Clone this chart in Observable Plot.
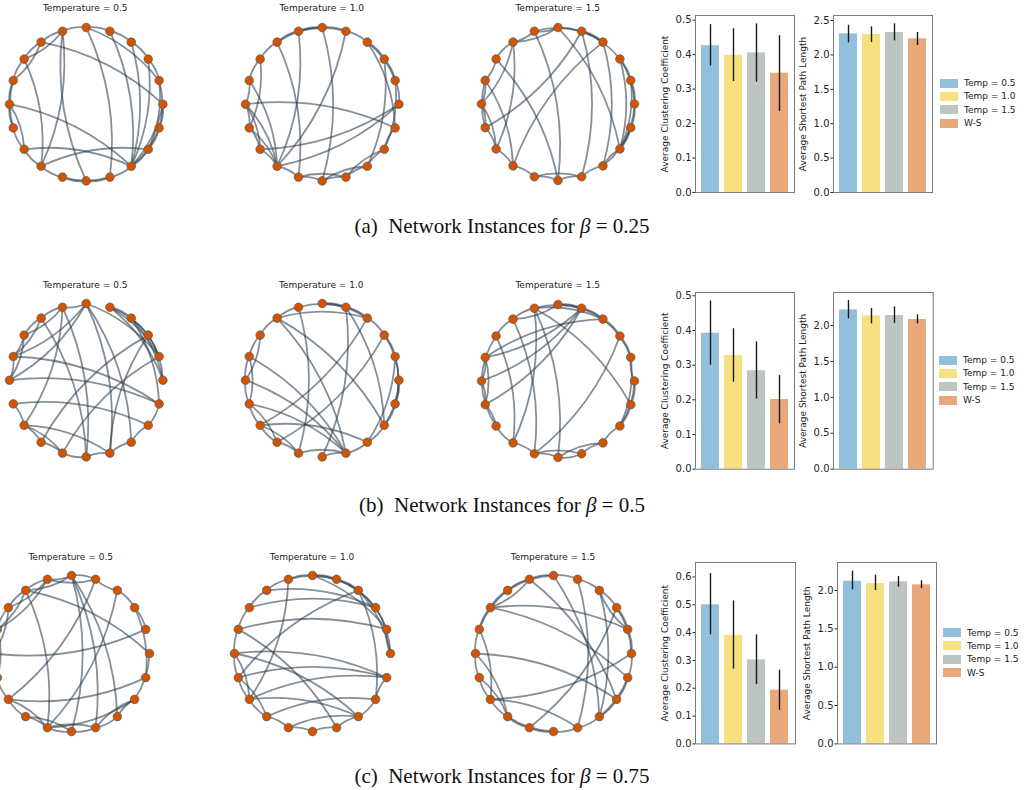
<!DOCTYPE html>
<html>
<head>
<meta charset="utf-8">
<script src="https://cdn.jsdelivr.net/npm/d3@7"></script>
<script src="https://cdn.jsdelivr.net/npm/@observablehq/plot@0.6"></script>
<style>
  body { margin: 0; background: #fff; }
  #fig { position: relative; width: 1031px; height: 790px; overflow: hidden; font-family: "DejaVu Sans", sans-serif; background: #fff; }
  .abs { position: absolute; }
  .ptitle { font-size: 9px; color: #222; transform: translate(-50%, -50%); white-space: nowrap; }
  .caption { font-family: "Liberation Serif", "Times New Roman", serif; font-size: 21px; line-height: 22px; color: #111; transform: translate(-50%, -50%); white-space: nowrap; }
  .legend { font-size: 9px; color: #222; }
  .legend .row { display: flex; align-items: center; height: 13.3px; }
  .legend .sw { width: 18px; height: 9px; margin-right: 6px; }
</style>
</head>
<body>
<div id="fig"></div>
<script>
// ---- data ---------------------------------------------------------------
const temperatures = ["Temperature = 0.5", "Temperature = 1.0", "Temperature = 1.5"];
const nodeIds = d3.range(20);

// edges of each sampled network (node 0 at 3 o'clock, counter-clockwise)
const edgesA1 = [[5,4],[6,5],[4,3],[3,2],[2,1],[1,18],[0,19],[19,18],[7,6],[8,7],[9,8],[10,9],[11,10],[12,11],[13,12],[14,13],[15,14],[16,14],[16,15],[17,16],[18,17],[7,0],[10,17],[8,13],[11,9],[6,13],[5,16],[5,1],[4,17],[3,17],[2,17],[0,17],[12,17],[13,18],[10,12],[7,9],[6,8],[19,17],[1,19],[15,6]];
const edgesA2 = [[6,5],[5,4],[6,4],[4,3],[3,2],[3,1],[3,19],[2,1],[1,0],[0,12],[10,19],[4,13],[6,13],[7,14],[8,7],[8,11],[9,10],[10,11],[11,12],[12,13],[13,14],[14,15],[15,16],[16,17],[17,18],[18,19],[14,16],[2,17],[10,13],[9,13],[7,6],[5,15],[1,18],[16,18],[9,8],[10,12],[0,13],[15,17],[11,13],[7,5]];
const edgesA3 = [[5,18],[5,6],[6,7],[5,7],[4,3],[4,2],[5,3],[2,1],[1,0],[0,19],[2,18],[4,11],[4,16],[6,15],[7,12],[9,13],[10,12],[10,11],[11,12],[8,9],[8,15],[13,3],[14,15],[15,16],[16,17],[17,18],[14,16],[19,18],[1,18],[3,17],[9,10],[8,7],[12,13],[13,14],[6,4],[0,18],[19,17],[11,9],[7,10],[2,0]];
const edgesB1 = [[5,9],[5,10],[5,6],[5,16],[5,17],[5,1],[4,3],[4,1],[3,19],[2,0],[9,19],[10,19],[11,18],[12,13],[12,16],[13,2],[14,1],[15,16],[16,17],[15,14],[6,12],[6,15],[8,9],[9,10],[8,7],[7,6],[11,12],[16,2],[3,0],[4,2],[3,1],[19,18],[12,14],[13,14],[8,10],[7,9],[6,8],[17,18],[7,15],[4,0]];
const edgesB2 = [[7,16],[9,16],[10,16],[11,16],[6,14],[5,4],[4,3],[6,4],[5,3],[3,12],[2,13],[7,18],[7,3],[4,18],[1,19],[1,17],[12,17],[14,16],[15,16],[3,2],[2,1],[0,19],[19,18],[18,17],[17,16],[13,12],[12,11],[11,10],[10,9],[9,8],[8,7],[7,6],[13,14],[8,10],[9,11],[11,13],[12,14],[0,18],[4,15],[2,0]];
const edgesB3 = [[6,4],[6,3],[6,15],[6,13],[6,19],[4,10],[4,11],[4,9],[5,7],[2,14],[1,18],[0,1],[13,14],[14,15],[16,17],[17,18],[15,17],[10,11],[11,12],[9,10],[8,13],[7,14],[9,3],[5,4],[4,3],[3,2],[2,1],[0,19],[19,18],[16,15],[13,12],[8,7],[7,6],[10,8],[12,10],[3,1],[14,16],[0,18],[9,11],[5,3]];
const edgesC1 = [[5,15],[5,17],[5,16],[5,7],[5,4],[5,6],[7,0],[4,12],[3,14],[7,14],[1,10],[19,12],[18,14],[2,19],[3,2],[2,1],[17,16],[16,15],[15,14],[17,18],[13,12],[12,11],[11,10],[10,9],[9,8],[8,7],[7,6],[3,4],[13,14],[8,10],[9,11],[6,8],[13,15],[14,16],[7,9],[6,9],[0,18],[16,18],[4,6],[12,14]];
const edgesC2 = [[8,2],[7,2],[9,1],[3,0],[3,1],[5,1],[11,19],[10,19],[12,19],[11,3],[10,17],[9,16],[6,12],[3,18],[13,18],[12,17],[14,17],[16,17],[15,16],[14,15],[5,4],[4,3],[6,5],[7,6],[8,7],[9,8],[10,9],[11,10],[12,11],[13,12],[13,14],[18,19],[0,1],[4,2],[6,4],[18,17],[10,12],[11,13],[5,3],[2,0]];
const edgesC3 = [[5,17],[4,16],[6,18],[3,17],[2,14],[0,12],[8,19],[8,1],[10,18],[10,13],[11,13],[9,12],[7,5],[6,5],[5,4],[4,3],[3,2],[2,1],[1,0],[0,19],[19,18],[17,16],[16,15],[15,14],[13,12],[12,11],[11,10],[10,9],[9,8],[8,7],[7,6],[12,16],[2,0],[18,17],[14,13],[9,7],[15,13],[19,17],[6,8],[1,3]];

// bar-chart summaries
const groups = ["Temp = 0.5", "Temp = 1.0", "Temp = 1.5", "W-S"];
const groupColors = ["#92bfdc", "#f6e07f", "#bdc5c3", "#e9a87c"];

const clusteringA = [0.426, 0.398, 0.405, 0.346];
const clusteringALow = [0.367, 0.322, 0.320, 0.235];
const clusteringAHigh = [0.487, 0.475, 0.489, 0.455];
const pathA = [2.306, 2.297, 2.326, 2.234];
const pathALow = [2.175, 2.180, 2.204, 2.137];
const pathAHigh = [2.432, 2.408, 2.452, 2.326];

const clusteringB = [0.392, 0.328, 0.284, 0.201];
const clusteringBLow = [0.300, 0.251, 0.202, 0.131];
const clusteringBHigh = [0.485, 0.405, 0.367, 0.270];
const pathB = [2.218, 2.135, 2.140, 2.084];
const pathBLow = [2.093, 2.023, 2.030, 2.023];
const pathBHigh = [2.348, 2.237, 2.260, 2.149];

const clusteringC = [0.500, 0.390, 0.302, 0.193];
const clusteringCLow = [0.392, 0.269, 0.213, 0.121];
const clusteringCHigh = [0.612, 0.514, 0.392, 0.265];
const pathC = [2.122, 2.091, 2.113, 2.074];
const pathCLow = [2.009, 2.000, 2.043, 2.026];
const pathCHigh = [2.252, 2.200, 2.183, 2.126];

const clusterTicksAB = [0, 0.1, 0.2, 0.3, 0.4, 0.5];
const clusterTicksC = [0, 0.1, 0.2, 0.3, 0.4, 0.5, 0.6];
const pathTicksA = [0, 0.5, 1.0, 1.5, 2.0, 2.5];
const pathTicksBC = [0, 0.5, 1.0, 1.5, 2.0];

const captions = [
  ["(a)", "0.25"],
  ["(b)", "0.5"],
  ["(c)", "0.75"]
];

// ---- drawing helpers ----------------------------------------------------
const fig = document.getElementById("fig");

function place(el, left, top) {
  el.classList.add("abs");
  el.style.left = left + "px";
  el.style.top = top + "px";
  fig.appendChild(el);
  return el;
}

function circ(i) {
  const a = (i * 2 * Math.PI) / nodeIds.length;
  return [Math.cos(a), Math.sin(a)];
}

function network(edges, cx, cy, R, title) {
  const pad = 8;
  const links = edges.map(([s, t]) => {
    const [x1, y1] = circ(s), [x2, y2] = circ(t);
    return {x1, y1, x2, y2};
  });
  const pts = nodeIds.map((i) => { const [x, y] = circ(i); return {x, y}; });
  const svg = Plot.plot({
    width: 2 * R + 2 * pad,
    height: 2 * R + 2 * pad,
    margin: 0,
    x: {domain: [-1, 1], range: [pad, pad + 2 * R], axis: null},
    y: {domain: [-1, 1], range: [pad + 2 * R, pad], axis: null},
    marks: [
      Plot.arrow(links, {x1: "x1", y1: "y1", x2: "x2", y2: "y2", bend: 16, headLength: 0,
        stroke: "#2c3e50", strokeOpacity: 0.58, strokeWidth: 1.8}),
      Plot.dot(pts, {x: "x", y: "y", r: 4.3, fill: "#d35400", stroke: "#5a5a5a", strokeWidth: 0.7})
    ]
  });
  place(svg, cx - R - pad, cy - R - pad);
  const t = document.createElement("div");
  t.className = "ptitle";
  t.textContent = title;
  place(t, cx, cy - 95.5);
}

function barChart(values, low, high, ticks, ymax, label, axLeft, axTop, axW, axH) {
  const mL = 45, mR = 2, mT = 8, mB = 8;
  const data = groups.map((g, i) => ({g, v: values[i], lo: low[i], hi: high[i]}));
  const svg = Plot.plot({
    width: axW + mL + mR,
    height: axH + mT + mB,
    marginLeft: mL, marginRight: mR, marginTop: mT, marginBottom: mB,
    style: {fontSize: "10px", fontFamily: "DejaVu Sans, sans-serif", color: "#222", background: "transparent", overflow: "visible"},
    x: {domain: groups, padding: 0.2, axis: null},
    y: {domain: [0, ymax], ticks, tickFormat: ".1f", label, labelAnchor: "center", labelArrow: "none",
        tickSize: 2.5, tickPadding: 1.5, labelOffset: 34},
    color: {domain: groups, range: groupColors},
    marks: [
      Plot.barY(data, {x: "g", y: "v", fill: "g"}),
      Plot.ruleX(data, {x: "g", y1: "lo", y2: "hi", stroke: "#1a1a1a", strokeWidth: 1.4}),
      Plot.frame({stroke: "#7a7a7a", strokeWidth: 1})
    ]
  });
  const lab = svg.querySelector('[aria-label="y-axis label"]');
  if (lab) { lab.setAttribute("font-size", "9px"); lab.style.fontSize = "9px"; }
  place(svg, axLeft - mL, axTop - mT);
}

function legend(left, top) {
  const box = document.createElement("div");
  box.className = "legend";
  groups.forEach((g, i) => {
    const row = document.createElement("div");
    row.className = "row";
    const sw = document.createElement("div");
    sw.className = "sw";
    sw.style.background = groupColors[i];
    const tx = document.createElement("span");
    tx.textContent = g;
    row.appendChild(sw);
    row.appendChild(tx);
    box.appendChild(row);
  });
  place(box, left, top);
}

function caption(idx, cx, cy) {
  const c = document.createElement("div");
  c.className = "caption";
  const [tag, beta] = captions[idx];
  c.innerHTML = `${tag}&ensp;Network Instances for <i>β</i> = ${beta}`;
  place(c, cx, cy);
}

// ---- row (a) -------------------------------------------------------------
network(edgesA1, 85.2, 103.5, 76.7, temperatures[0]);
network(edgesA2, 321.7, 103.5, 76.7, temperatures[1]);
network(edgesA3, 557.7, 103.5, 76.5, temperatures[2]);
barChart(clusteringA, clusteringALow, clusteringAHigh, clusterTicksAB, 0.5135, "Average Clustering Coefficient", 695, 15, 99, 177);
barChart(pathA, pathALow, pathAHigh, pathTicksA, 2.573, "Average Shortest Path Length", 833, 15, 99, 177);
legend(940, 76.5);
caption(0, 502, 226);

// ---- row (b) -------------------------------------------------------------
network(edgesB1, 85.2, 380, 76.7, temperatures[0]);
network(edgesB2, 321.3, 380, 76.7, temperatures[1]);
network(edgesB3, 557.7, 380, 76.5, temperatures[2]);
barChart(clusteringB, clusteringBLow, clusteringBHigh, clusterTicksAB, 0.5095, "Average Clustering Coefficient", 695, 292, 99, 176.7);
barChart(pathB, pathBLow, pathBHigh, pathTicksBC, 2.46, "Average Shortest Path Length", 833, 292, 99.7, 176.7);
legend(939, 353.5);
caption(1, 502, 505);

// ---- row (c) -------------------------------------------------------------
network(edgesC1, 70.7, 652.7, 78, temperatures[0]);
network(edgesC2, 312, 652.7, 78, temperatures[1]);
network(edgesC3, 553, 652.7, 78, temperatures[2]);
barChart(clusteringC, clusteringCLow, clusteringCHigh, clusterTicksC, 0.652, "Average Clustering Coefficient", 695, 562.3, 100, 181.4);
barChart(pathC, pathCLow, pathCHigh, pathTicksBC, 2.365, "Average Shortest Path Length", 836.7, 562.3, 99, 181.4);
legend(943, 626);
caption(2, 502, 776);
</script>
</body>
</html>
